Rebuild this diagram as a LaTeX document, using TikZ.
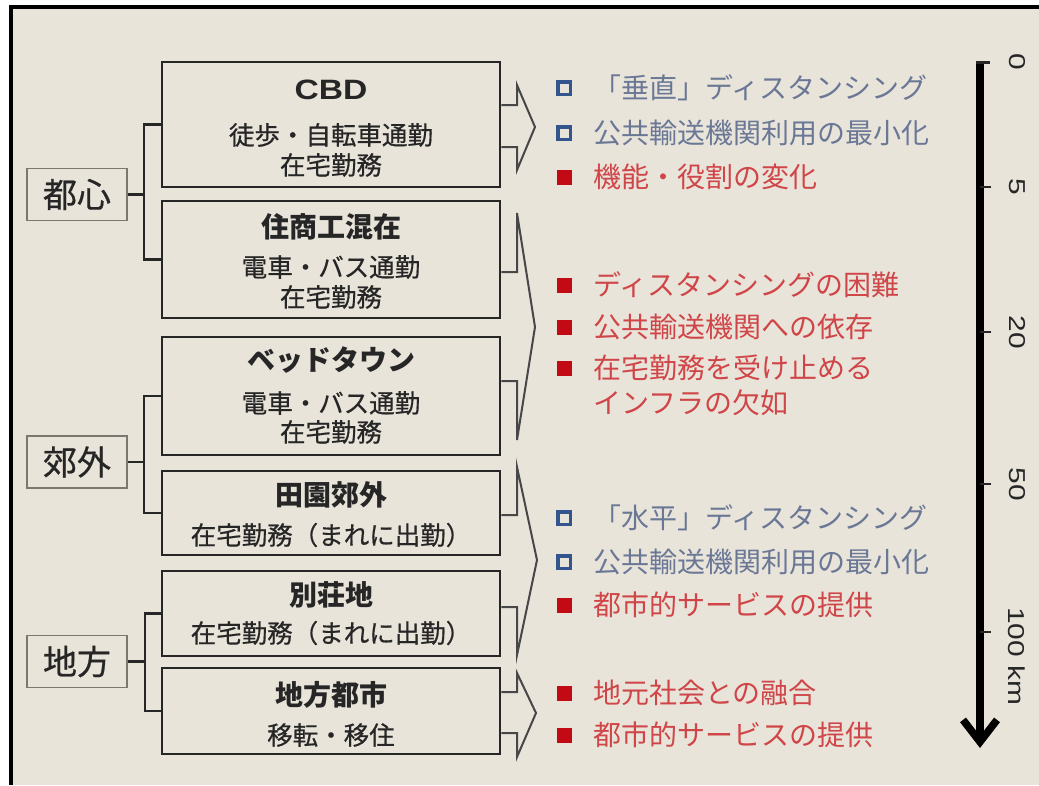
\documentclass[tikz,border=0pt]{standalone}
\usepackage{fontspec}
\usepackage{graphicx}
\setmainfont{Noto Sans CJK JP}
\newfontfamily\jpmed{Noto Sans CJK JP}[FakeBold=0.6]
\newfontfamily\lat{Liberation Sans}
\usetikzlibrary{arrows.meta,calc}
\definecolor{paper}{HTML}{E9E4DA}
\definecolor{ink}{HTML}{262626}
\definecolor{bluetxt}{HTML}{6A7896}
\definecolor{bluebox}{HTML}{34548E}
\definecolor{redtxt}{HTML}{D04548}
\definecolor{redbox}{HTML}{C20A14}
\definecolor{catline}{HTML}{7A7670}
\begin{document}
\begin{tikzpicture}[x=1pt,y=-1pt,
 mbox/.style={draw=ink,line width=2.6pt,minimum width=338pt,inner sep=0pt},
 cat/.style={draw=catline,line width=1.3pt,minimum width=100pt,minimum height=52pt,inner sep=0pt,font=\jpmed\fontsize{34}{36}\selectfont,text=ink},
 ttl/.style={font=\fontsize{28}{30}\selectfont\bfseries,text=ink,inner sep=0pt},
 sub/.style={font=\jpmed\fontsize{25.5}{28}\selectfont,text=ink,inner sep=0pt},
 brk/.style={draw=ink,line width=2.4pt},
 chev/.style={draw=ink!85,line width=2pt,line join=miter},
 btxt/.style={font=\fontsize{28}{30}\selectfont,text=bluetxt,anchor=west,inner sep=0pt},
 rtxt/.style={font=\fontsize{28}{30}\selectfont,text=redtxt,anchor=west,inner sep=0pt},
 bsq/.style={draw=bluebox,line width=3.5pt,minimum size=12.5pt,inner sep=0pt},
 rsq/.style={fill=redbox,minimum size=15pt,inner sep=0pt},
 scl/.style={font=\lat\fontsize{23}{25}\selectfont,text=ink,rotate=-90,inner sep=0pt},
 tick/.style={draw=ink,line width=2pt},
]
% page and frame
\fill[white] (0,0) rectangle (1039,785);
\useasboundingbox (0,0) rectangle (1039,785);
\fill[paper] (11,7) rectangle (1039,785);
\draw[black,line width=3.5pt] (11,785) -- (11,7) -- (1039,7);

% category boxes
\node[cat] (tosin) at (77,194.5) {都心};
\node[cat] (kogai) at (77,462) {郊外};
\node[cat] (chiho) at (77,661.5) {地方};

% main boxes
\node[mbox,minimum height=125pt] (cbd) at (331,124.5) {};
\node[mbox,minimum height=117pt] (jsk) at (331,259.5) {};
\node[mbox,minimum height=118pt] (bed) at (331,396) {};
\node[mbox,minimum height=84pt] (den) at (331,513) {};
\node[mbox,minimum height=85pt] (bes) at (331,613.5) {};
\node[mbox,minimum height=86pt] (chi) at (331,711) {};

% box texts
\node[ttl] (cbdT) at (331,90) {\lat\scalebox{1.2}[1]{CBD}};
\node[sub] (cbdA) at (331,135) {徒歩・自転車通勤};
\node[sub] (cbdB) at (331,165) {在宅勤務};
\node[ttl] (jskT) at (331,227) {住商工混在};
\node[sub] (jskA) at (331,267) {電車・バス通勤};
\node[sub] (jskB) at (331,297) {在宅勤務};
\node[ttl] (bedT) at (331,360) {ベッドタウン};
\node[sub] (bedA) at (331,403) {電車・バス通勤};
\node[sub] (bedB) at (331,432) {在宅勤務};
\node[ttl] (denT) at (331,495) {田園郊外};
\node[sub] (denA) at (331,535) {在宅勤務（まれに出勤）};
\node[ttl] (besT) at (331,595) {別荘地};
\node[sub] (besA) at (331,633) {在宅勤務（まれに出勤）};
\node[ttl] (chiT) at (331,695) {地方都市};
\node[sub] (chiA) at (331,735) {移転・移住};

% brackets
\coordinate (j1) at (144,194.5);
\coordinate (j2) at (144,462);
\coordinate (j3) at (145,661.5);
\draw[brk] (cbd.west) -| (j1) |- (jsk.west);
\draw[brk] (tosin.east) -- (j1);
\draw[brk] (bed.west) -| (j2) |- (den.west);
\draw[brk] (kogai.east) -- (j2);
\draw[brk] (bes.west) -| (j3) |- (chi.west);
\draw[brk] (chiho.east) -- (j3);

% chevron arrows
\draw[chev] ($(cbd.east)+(0,-19.5)$) -- (517,105) -- (517,85) -- (535,127) -- (517,170) -- (517,147) -- ($(cbd.east)+(0,22.5)$);
\draw[chev] ($(jsk.east)+(0,12.5)$) -- (517,272) -- (517,213) -- (535,327) -- (517,440) -- (517,381) -- ($(bed.east)+(0,-15)$);
\draw[chev] ($(den.east)+(0,2)$) -- (517,515) -- (517,467) -- (537,560) -- (517,655) -- (517,607) -- ($(bes.east)+(0,-6.5)$);
\draw[chev] ($(chi.east)+(0,-19)$) -- (517,692) -- (517,673) -- (536,713) -- (517,757) -- (517,733) -- ($(chi.east)+(0,22)$);

% right lists
\node[bsq] (q1) at (564,88) {};
\node[btxt] (t1) at (593,88) {「垂直」ディスタンシング};
\node[bsq] (q2) at (564,133) {};
\node[btxt] (t2) at (593,133) {公共輸送機関利用の最小化};
\node[rsq] (q3) at (564,177) {};
\node[rtxt] (t3) at (593,177) {機能・役割の変化};
\node[rsq] (q4) at (564,285) {};
\node[rtxt] (t4) at (593,285) {ディスタンシングの困難};
\node[rsq] (q5) at (564,327) {};
\node[rtxt] (t5) at (593,327) {公共輸送機関への依存};
\node[rsq] (q6) at (564,368) {};
\node[rtxt] (t6) at (593,368) {在宅勤務を受け止める};
\node[rtxt] (t6b) at (593,403) {インフラの欠如};
\node[bsq] (q7) at (564,518) {};
\node[btxt] (t7) at (593,518) {「水平」ディスタンシング};
\node[bsq] (q8) at (564,562) {};
\node[btxt] (t8) at (593,562) {公共輸送機関利用の最小化};
\node[rsq] (q9) at (564,605) {};
\node[rtxt] (t9) at (593,605) {都市的サービスの提供};
\node[rsq] (q10) at (564,693) {};
\node[rtxt] (t10) at (593,693) {地元社会との融合};
\node[rsq] (q11) at (564,735) {};
\node[rtxt] (t11) at (593,735) {都市的サービスの提供};

% distance scale
\coordinate (s0) at (980,61);
\coordinate (s1) at (980,748);
\draw[line width=7.5pt,-{Straight Barb[length=22pt,width=34pt]}] (s0) -- (s1);
\draw[tick,line width=3pt] (976.25,62) -- (990,62);
\draw[tick] (980,187) -- (991,187);
\draw[tick] (980,332) -- (991,332);
\draw[tick] (980,484) -- (991,484);
\draw[tick] (980,632) -- (991,632);
\node[scl] (l0) at (1017,62) {\scalebox{1.3}[1]{0}};
\node[scl] (l5) at (1017,187) {\scalebox{1.3}[1]{5}};
\node[scl] (l20) at (1017,332) {\scalebox{1.3}[1]{20}};
\node[scl] (l50) at (1017,484) {\scalebox{1.3}[1]{50}};
\node[scl,anchor=west] (l100) at (1017,607) {\scalebox{1.3}[1]{100 km}};
\end{tikzpicture}
\end{document}
